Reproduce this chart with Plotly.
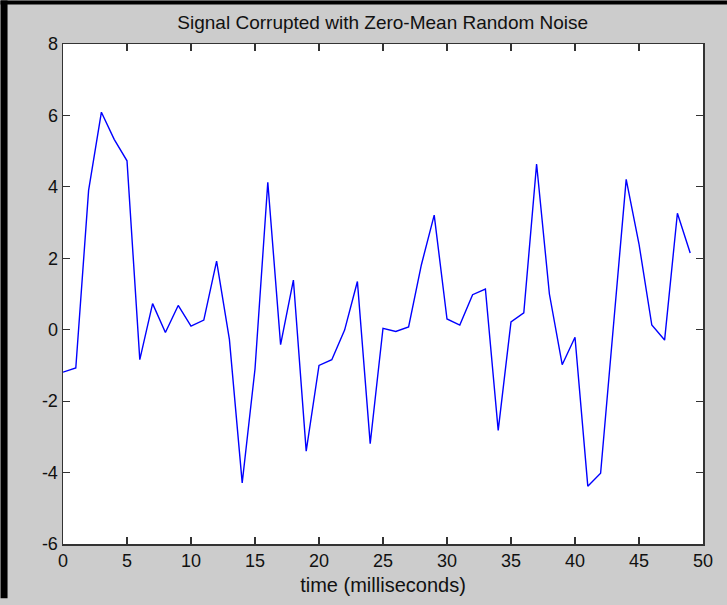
import plotly.graph_objects as go

t = list(range(50))
signal = [-1.19, -1.07, 3.9, 6.09, 5.33, 4.73, -0.84, 0.73, -0.08, 0.68,
          0.10, 0.27, 1.92, -0.27, -4.29, -1.1, 4.13, -0.42, 1.39, -3.40,
          -1.0, -0.84, -0.01, 1.35, -3.19, 0.04, -0.05, 0.08, 1.82, 3.21,
          0.30, 0.13, 0.98, 1.14, -2.82, 0.22, 0.47, 4.64, 1.0, -0.98,
          -0.21, -4.38, -4.02, 0.2, 4.21, 2.4, 0.13, -0.29, 3.26, 2.15]

x_ticks = [0, 5, 10, 15, 20, 25, 30, 35, 40, 45, 50]
y_ticks = [-6, -4, -2, 0, 2, 4, 6, 8]

W, H = 727, 605
L, R, T, B = 62.5, 24, 44, 55
pw, ph = W - L - R, H - T - B

fig = go.Figure()
fig.add_trace(go.Scatter(x=t, y=signal, mode="lines",
                         line=dict(color="#0000ff", width=1.4), showlegend=False,
                         hoverinfo="skip"))

fam = "Liberation Sans, Arial, sans-serif"
tick_font = dict(family=fam, size=18, color="#111111")
title_font = dict(family=fam, size=19, color="#111111")
xlab_font = dict(family=fam, size=20, color="#111111")
axis_common = dict(showgrid=False, zeroline=False, showline=True, linecolor="#333333",
                   linewidth=1.5, ticks="inside", ticklen=7, tickwidth=1.2,
                   tickcolor="#333333", mirror="ticks", tickfont=tick_font)

fig.update_layout(
    width=W, height=H,
    margin=dict(l=L, r=R, t=T, b=B, pad=0),
    paper_bgcolor="#cccccc", plot_bgcolor="#ffffff",
    title=dict(text="Signal Corrupted with Zero-Mean Random Noise",
               x=(L + pw / 2) / W, xanchor="center", y=1 - 22 / H, yanchor="middle",
               yref="container", font=title_font),
    xaxis=dict(range=[0, 50], tickvals=x_ticks, ticktext=[str(v) for v in x_ticks],
               title=dict(text="time (milliseconds)", font=xlab_font, standoff=8),
               **axis_common),
    yaxis=dict(range=[-6, 8], tickvals=y_ticks, ticktext=[str(v) for v in y_ticks],
               **axis_common),
)

# dark screenshot edges (left and top)
fig.add_shape(type="rect", xref="paper", yref="paper",
              x0=-L / pw, x1=(7 - L) / pw, y0=-B / ph, y1=1 + T / ph,
              fillcolor="#000000", line_width=0, layer="above")
fig.add_shape(type="rect", xref="paper", yref="paper",
              x0=-L / pw, x1=1 + R / pw, y0=1 + (T - 4) / ph, y1=1 + T / ph,
              fillcolor="#000000", line_width=0, layer="above")

fig.write_html("out.html",
               config={"displayModeBar": False, "staticPlot": True},
               post_script="document.body.style.margin='0';"
                           "document.body.style.overflow='hidden';"
                           "document.body.style.background='#cccccc';")
